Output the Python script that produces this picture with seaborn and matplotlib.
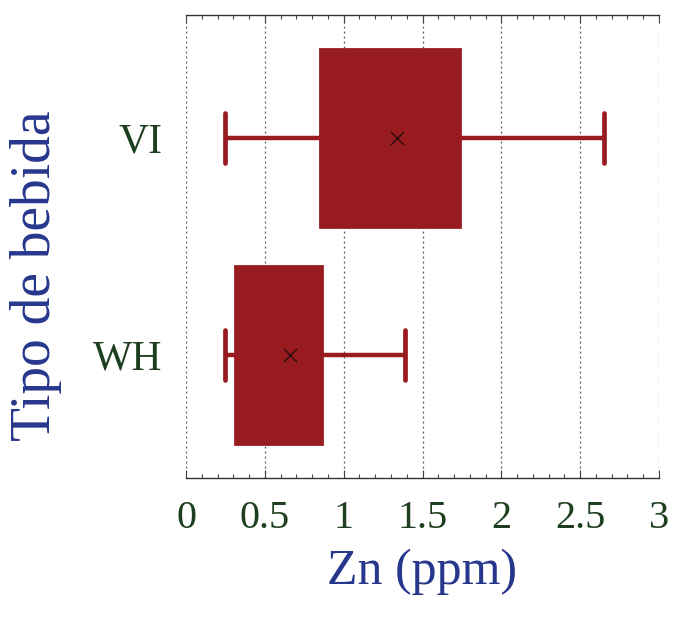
import matplotlib
matplotlib.use("Agg")
import matplotlib.pyplot as plt
import numpy as np
import pandas as pd
import seaborn as sns
from matplotlib.ticker import MultipleLocator

# Zn (ppm) summary by beverage type
tipos = ["VI", "WH"]
zn_min = [0.25, 0.25]
zn_q1 = [0.85, 0.31]
zn_q3 = [1.74, 0.86]
zn_max = [2.65, 1.39]
zn_media = [1.34, 0.66]
x_ticks = [0, 0.5, 1, 1.5, 2, 2.5, 3]
x_tick_labels = ["0", "0.5", "1", "1.5", "2", "2.5", "3"]

# five-number rows per group so the box quartiles and whisker ends land on the summary
rows = []
for t, mn, a, b, mx, m in zip(tipos, zn_min, zn_q1, zn_q3, zn_max, zn_media):
    for v in (mn, a, m, b, mx):
        rows.append({"Tipo": t, "Zn": v})
df = pd.DataFrame(rows)
medias = pd.DataFrame({"Tipo": tipos, "Zn": zn_media})

sns.set_theme(style="white")
plt.rcParams["font.family"] = ["Liberation Serif", "DejaVu Serif"]

red = "#981b1f"
fig = plt.figure(figsize=(6.73, 6.18), dpi=100)
ax = fig.add_axes([186 / 673, 1 - 478 / 618, 473 / 673, 463 / 618])

sns.boxplot(
    data=df, x="Zn", y="Tipo", order=tipos, ax=ax,
    whis=(0, 100), width=0.82, color=red, linecolor=red, linewidth=2,
    saturation=1, showfliers=False,
    medianprops={"visible": False},
    whiskerprops={"linewidth": 3.2, "color": red},
    capprops={"linewidth": 3.4, "color": red},
    capwidths=0.23,
)
sns.scatterplot(
    data=medias, x="Zn", y="Tipo", ax=ax, marker="x", color="#2a0c0c",
    s=90, linewidth=1.0, zorder=5,
)

ax.set_xlim(0, 3)
ax.set_ylim(1.567, -0.567)
ax.set_xticks(x_ticks)
ax.set_xticklabels(x_tick_labels)
ax.xaxis.set_minor_locator(MultipleLocator(0.1))
ax.grid(axis="x", which="major", linestyle=(0, (1.5, 2.5)), color="#555555", linewidth=0.9)
ax.set_axisbelow(True)

for side in ("left", "right"):
    ax.spines[side].set_visible(False)
for side in ("top", "bottom"):
    ax.spines[side].set_visible(True)
    ax.spines[side].set_color("#333333")
    ax.spines[side].set_linewidth(1.0)

green = "#1d3f1f"
ax.tick_params(axis="x", which="both", direction="in", top=True, bottom=True,
               color="#444444", width=0.8)
ax.tick_params(axis="x", which="major", length=6, labelsize=29, labelcolor=green, pad=16)
ax.tick_params(axis="x", which="minor", length=3)
ax.tick_params(axis="y", length=0, labelsize=30, labelcolor=green, pad=17)

blue = "#27378c"
ax.set_xlabel("Zn (ppm)", fontsize=36, color=blue, labelpad=8)
ax.set_ylabel("Tipo de bebida", fontsize=40, color=blue)
ax.yaxis.set_label_coords(-0.262, 0.436)

fig.savefig("out.png", dpi=100)
